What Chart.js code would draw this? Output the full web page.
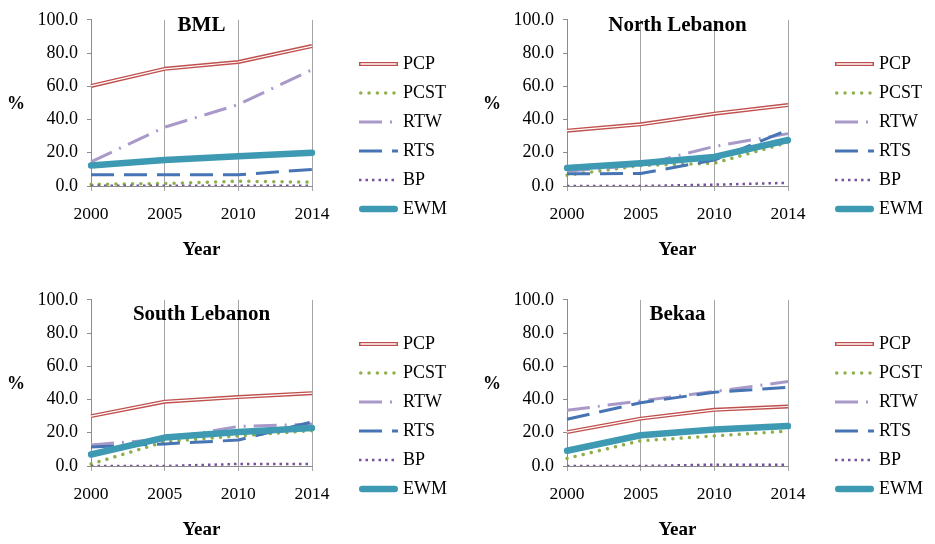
<!DOCTYPE html>
<html><head><meta charset="utf-8">
<script src="https://cdn.jsdelivr.net/npm/chart.js@4"></script>
<style>
html,body{margin:0;padding:0;background:#fff;width:935px;height:544px;overflow:hidden}
canvas{position:absolute}
</style></head><body>
<canvas id="c1" width="459" height="264" style="left:0;top:0"></canvas>
<canvas id="c2" width="459" height="264" style="left:476px;top:0"></canvas>
<canvas id="c3" width="459" height="264" style="left:0;top:280px"></canvas>
<canvas id="c4" width="459" height="264" style="left:476px;top:280px"></canvas>
<script>
// ---------- DATA ----------
const years = ['2000', '2005', '2010', '2014'];
const seriesNames = ['PCP', 'PCST', 'RTW', 'RTS', 'BP', 'EWM'];
const panelTitles = ['BML', 'North Lebanon', 'South Lebanon', 'Bekaa'];
const yAxisLabel = '%';
const xAxisLabel = 'Year';

const bml_PCP  = [60.2, 70.5, 74.6, 84.2];
const bml_PCST = [1.0, 1.5, 2.9, 2.3];
const bml_RTW  = [14.5, 35.4, 49.0, 70.0];
const bml_RTS  = [6.7, 6.7, 6.7, 10.0];
const bml_BP   = [0.2, 0.2, 0.2, 0.2];
const bml_EWM  = [12.3, 15.6, 17.9, 20.0];

const north_PCP  = [33.3, 37.1, 43.5, 48.7];
const north_PCST = [6.5, 12.3, 13.7, 26.2];
const north_RTW  = [8.8, 12.7, 23.8, 31.5];
const north_RTS  = [7.3, 7.5, 15.6, 33.8];
const north_BP   = [0.0, 0.0, 0.8, 1.9];
const north_EWM  = [10.8, 13.7, 17.5, 27.7];

const south_PCP  = [30.0, 38.7, 41.5, 43.8];
const south_PCST = [1.2, 14.6, 18.1, 21.3];
const south_RTW  = [12.7, 16.2, 23.8, 25.2];
const south_RTS  = [11.5, 13.3, 15.6, 26.5];
const south_BP   = [0.0, 0.0, 1.2, 1.2];
const south_EWM  = [6.9, 17.1, 20.4, 22.9];

const bekaa_PCP  = [20.4, 28.5, 33.8, 35.8];
const bekaa_PCST = [4.6, 15.2, 18.1, 21.0];
const bekaa_RTW  = [33.5, 39.2, 44.8, 50.8];
const bekaa_RTS  = [28.1, 38.1, 44.4, 47.3];
const bekaa_BP   = [0.0, 0.0, 0.8, 0.8];
const bekaa_EWM  = [9.2, 18.5, 21.9, 24.0];

const panelValues = [
  [bml_PCP, bml_PCST, bml_RTW, bml_RTS, bml_BP, bml_EWM],
  [north_PCP, north_PCST, north_RTW, north_RTS, north_BP, north_EWM],
  [south_PCP, south_PCST, south_RTW, south_RTS, south_BP, south_EWM],
  [bekaa_PCP, bekaa_PCST, bekaa_RTW, bekaa_RTS, bekaa_BP, bekaa_EWM]
];

// ---------- STYLE ----------
const FONT = 'Liberation Serif';
const STYLE = {
  PCP:  {color: '#C0504D', width: 4, dash: [], cap: 'butt'},
  PCST: {color: '#8DB04C', width: 3.5, dash: [0.01, 8.3], cap: 'round'},
  RTW:  {color: '#A999C9', width: 3, dash: [23, 8, 2, 8], cap: 'butt'},
  RTS:  {color: '#4674B4', width: 3, dash: [23, 10], cap: 'butt'},
  BP:   {color: '#7552A0', width: 2.5, dash: [2.5, 4], cap: 'butt'},
  EWM:  {color: '#3D9AB2', width: 6.5, dash: [], cap: 'round'}
};
const titleTops = [5, 5, 14, 14];

function legendImg(name) {
  const s = STYLE[name];
  const c = document.createElement('canvas');
  c.width = 39; c.height = 12;
  const g = c.getContext('2d');
  g.strokeStyle = s.color; g.lineWidth = s.width; g.lineCap = s.cap;
  g.setLineDash(s.dash);
  const pad = s.cap === 'round' ? s.width / 2 : 0;
  g.beginPath(); g.moveTo(pad, 6); g.lineTo(39 - pad, 6); g.stroke();
  if (name === 'PCP') {
    g.setLineDash([]); g.strokeStyle = '#fff'; g.lineWidth = 1.3;
    g.beginPath(); g.moveTo(1.5, 6); g.lineTo(37.5, 6); g.stroke();
  }
  return c;
}
const legendImgs = {};
seriesNames.forEach(n => legendImgs[n] = legendImg(n));

function makeDatasets(values) {
  const ds = [];
  seriesNames.forEach((n, i) => {
    const s = STYLE[n];
    ds.push({label: n, data: values[i], borderColor: s.color, backgroundColor: s.color,
      borderWidth: s.width, borderDash: s.dash, borderCapStyle: s.cap, borderJoinStyle: 'round',
      pointRadius: 0, pointHoverRadius: 0, tension: 0, fill: false, order: 20 - i * 2});
    if (n === 'PCP') {
      ds.push({label: 'PCP_inner', isInner: true, data: values[i], borderColor: '#fff',
        borderWidth: 1.2, borderCapStyle: 'butt', borderJoinStyle: 'round', pointRadius: 0,
        pointHoverRadius: 0, tension: 0, fill: false, order: 19});
    }
  });
  return ds;
}

const pctLabel = {
  id: 'pctLabel',
  afterDraw(chart) {
    const ctx = chart.ctx, a = chart.chartArea;
    ctx.save();
    ctx.font = 'bold 18px "' + FONT + '"';
    ctx.fillStyle = '#000'; ctx.textAlign = 'center'; ctx.textBaseline = 'middle';
    ctx.fillText(yAxisLabel, 16, (a.top + a.bottom) / 2 + 1);
    ctx.restore();
  }
};
const legendShift = {
  id: 'legendShift',
  afterLayout(chart) {
    const lg = chart.legend;
    if (!lg) return;
    const dx = chart.chartArea.right + 40 - lg.left;
    lg.left += dx; lg.right += dx;
    lg.top += 4.5; lg.bottom += 4.5;
  }
};

panelTitles.forEach((title, p) => {
  const tTop = titleTops[p];
  new Chart(document.getElementById('c' + (p + 1)), {
    type: 'line',
    data: {labels: years, datasets: makeDatasets(panelValues[p])},
    plugins: [pctLabel, legendShift],
    options: {
      responsive: false, animation: false, events: [],
      layout: {padding: {left: 0, right: 43, top: 0, bottom: 0}},
      plugins: {
        tooltip: {enabled: false},
        title: {display: true, text: title, fullSize: false, color: '#000',
          font: {family: FONT, size: 21, weight: 'bold'},
          padding: {top: tTop, bottom: 12 - 25.2 - tTop}},
        legend: {position: 'right',
          labels: {usePointStyle: true, pointStyleWidth: 31, padding: 11, color: '#000',
            font: {family: FONT, size: 18},
            generateLabels(chart) {
              return chart.data.datasets.map((d, i) => ({d, i}))
                .filter(o => !o.d.isInner)
                .map(o => ({text: o.d.label, pointStyle: legendImgs[o.d.label], datasetIndex: o.i,
                  fillStyle: 'rgba(0,0,0,0)', strokeStyle: 'rgba(0,0,0,0)', lineWidth: 0,
                  hidden: false, fontColor: '#000'}));
            }}}
      },
      scales: {
        x: {offset: false,
          ticks: {color: '#000', font: {family: FONT, size: 17.5}, padding: 13, maxRotation: 0, autoSkip: false},
          grid: {color: '#A5A5A5', lineWidth: 1, tickLength: 5, drawTicks: true},
          border: {display: true, color: '#8C8C8C'},
          title: {display: true, text: xAxisLabel, color: '#000', font: {family: FONT, size: 19, weight: 'bold'},
            padding: {top: 0, bottom: 3}},
          afterFit(s) { s.height = 78; }},
        y: {min: 0, max: 100,
          ticks: {stepSize: 20, color: '#000', font: {family: FONT, size: 18}, padding: 9,
            callback: v => Number(v).toFixed(1)},
          grid: {drawOnChartArea: false, drawTicks: true, tickLength: 4, color: '#8C8C8C'},
          border: {display: true, color: '#8C8C8C'},
          afterFit(s) { s.width = 91; }}
      }
    }
  });
});
</script>
</body></html>
